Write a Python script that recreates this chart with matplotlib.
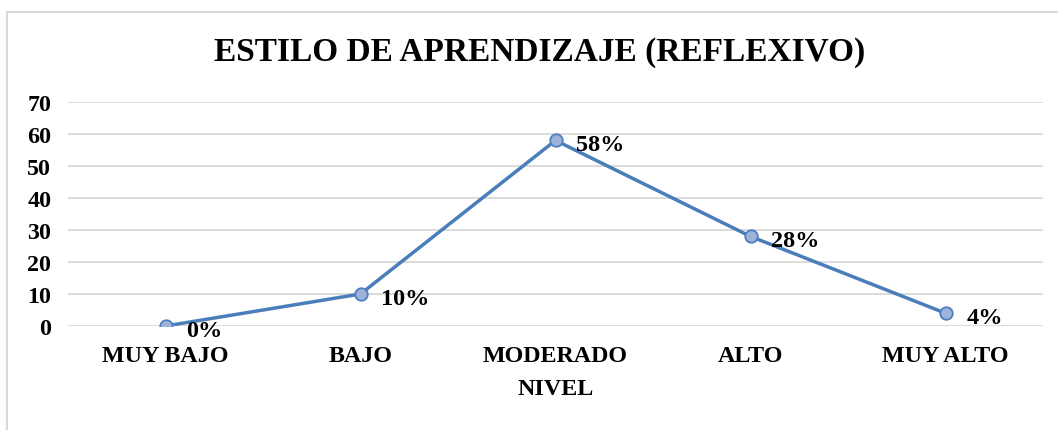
import matplotlib
matplotlib.use("Agg")
import matplotlib.pyplot as plt
from matplotlib.patches import Rectangle

categories = ["MUY BAJO", "BAJO", "MODERADO", "ALTO", "MUY ALTO"]
values = [0, 10, 58, 28, 4]
labels = ["0%", "10%", "58%", "28%", "4%"]
yticks = [0, 10, 20, 30, 40, 50, 60, 70]

plt.rcParams['font.family'] = ['Liberation Serif', 'DejaVu Serif']
plt.rcParams['font.weight'] = 'bold'

W, H = 1058, 431
fig = plt.figure(figsize=(W / 100, H / 100), dpi=100)
fig.patch.set_facecolor('white')

# outer chart border
fig.patches.append(Rectangle((7 / W, -0.05), 1.2, 1 - 13 / H + 0.05,
                             transform=fig.transFigure, fill=False,
                             edgecolor='#D9D9D9', linewidth=1.5))

ax = fig.add_axes([68 / W, (H - 327) / H, 975 / W, (327 - 103) / H])
x = list(range(len(categories)))
ax.plot(x, values, color='#4A7EBB', linewidth=2.5, marker='o', markersize=9,
        markerfacecolor='#9DB3D9', markeredgecolor='#4F7EBD', markeredgewidth=1.3,
        zorder=3)
for xi, v, lab in zip(x, values, labels):
    ax.annotate(lab, (xi, v), xytext=(15, -3), textcoords='offset points',
                ha='left', va='center', fontsize=17.5, fontweight='bold')

ax.set_xlim(-0.5, len(categories) - 0.5)
ax.set_ylim(0, 70)
ax.set_yticks(yticks)
ax.set_xticks(x)
ax.set_xticklabels(categories)
ax.tick_params(axis='both', length=0, labelsize=17.3)
ax.tick_params(axis='y', pad=12)
ax.tick_params(axis='x', pad=14)
for lab in ax.get_xticklabels() + ax.get_yticklabels():
    lab.set_fontweight('bold')
for s in ax.spines.values():
    s.set_visible(False)
ax.grid(axis='y', color='#D9D9D9', linewidth=1.3)
ax.set_axisbelow(True)
ax.set_xlabel("NIVEL", fontsize=17.3, fontweight='bold', labelpad=8)

fig.text(540 / W, 1 - 52 / H, "ESTILO DE APRENDIZAJE (REFLEXIVO)",
         ha='center', va='center', fontsize=24, fontweight='bold')

fig.savefig("out.png", dpi=100)
